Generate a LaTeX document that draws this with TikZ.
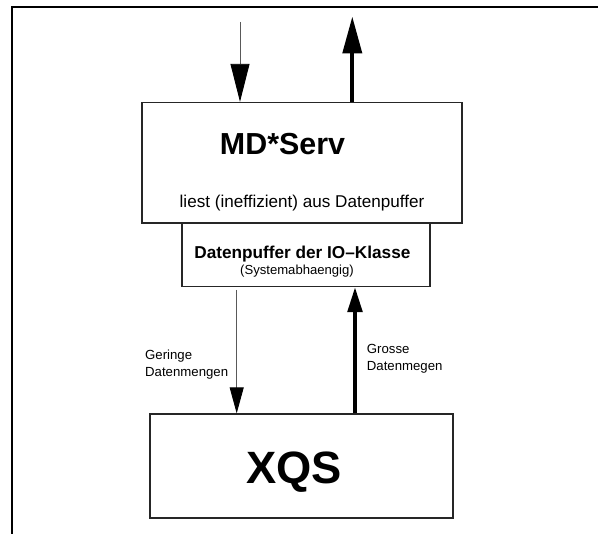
\documentclass[tikz,border=0pt]{standalone}
\usepackage{fontspec}
\setmainfont{Liberation Sans}
\usetikzlibrary{arrows.meta}
\begin{document}
\begin{tikzpicture}[x=1pt,y=-1pt,
  box/.style={draw=black!85,line width=1.3pt,inner sep=0pt,fill=white},
  txt/.style={inner sep=0pt,text=black},
  thinarrow/.style={draw=black!65,line width=0.9pt},
  thickarrow/.style={draw=black,line width=4pt},
  frameline/.style={draw=black,line width=2pt}]
\useasboundingbox (0,0) rectangle (598,534);
% frame
\coordinate (fTL) at (12,7);
\coordinate (fTR) at (598,7);
\coordinate (fBL) at (12,534);
\draw[frameline] (fTR) -- (fTL) -- (fBL);
% boxes
\node[box,minimum width=320pt,minimum height=120.5pt] (md) at (302,162.75) {};
\node[box,minimum width=248pt,minimum height=63.5pt] (buf) at (306,254.75) {};
\node[box,minimum width=303pt,minimum height=104pt] (xqs) at (301.5,466) {};
% texts
\node[txt,anchor=base,font=\bfseries\fontsize{30.4}{34}\selectfont] (mdt) at (282.5,155) {MD*Serv};
\node[txt,anchor=base,font=\fontsize{17.1}{20}\selectfont] (mdl) at (302,207.3) {liest (ineffizient) aus Datenpuffer};
\node[txt,anchor=base,font=\bfseries\fontsize{17.2}{20}\selectfont] (buft) at (302.4,258.3) {Datenpuffer der IO–Klasse};
\node[txt,anchor=base,font=\fontsize{13.1}{16}\selectfont] (bufs) at (297,275) {(Systemabhaengig)};
\node[txt,anchor=base,font=\bfseries\fontsize{45.3}{50}\selectfont] (xqst) at (294,483.3) {XQS};
\node[txt,anchor=base west,font=\fontsize{13.2}{16}\selectfont] (ger1) at (145,360) {Geringe};
\node[txt,anchor=base west,font=\fontsize{13.2}{16}\selectfont] (ger2) at (145,376.7) {Datenmengen};
\node[txt,anchor=base west,font=\fontsize{13.2}{16}\selectfont] (gro1) at (366.7,354) {Grosse};
\node[txt,anchor=base west,font=\fontsize{13.2}{16}\selectfont] (gro2) at (366.7,370.7) {Datenmegen};
% arrows
\coordinate (inTop) at (240,22);
\coordinate (outTop) at (352.3,16.5);
\draw[thinarrow,-{Triangle[length=38pt,width=19pt,color=black]}] (inTop) -- (inTop |- md.north);
\draw[thickarrow,-{Triangle[length=37pt,width=19pt]}] (outTop |- md.north) -- (outTop);
\draw[thinarrow,-{Triangle[length=26pt,width=14pt,color=black]}] (236.7,290) -- (236.7,0 |- xqs.north);
\draw[thickarrow,-{Triangle[length=25pt,width=14.5pt]}] (355,0 |- xqs.north) -- (355,0 |- buf.south);
\end{tikzpicture}
\end{document}
